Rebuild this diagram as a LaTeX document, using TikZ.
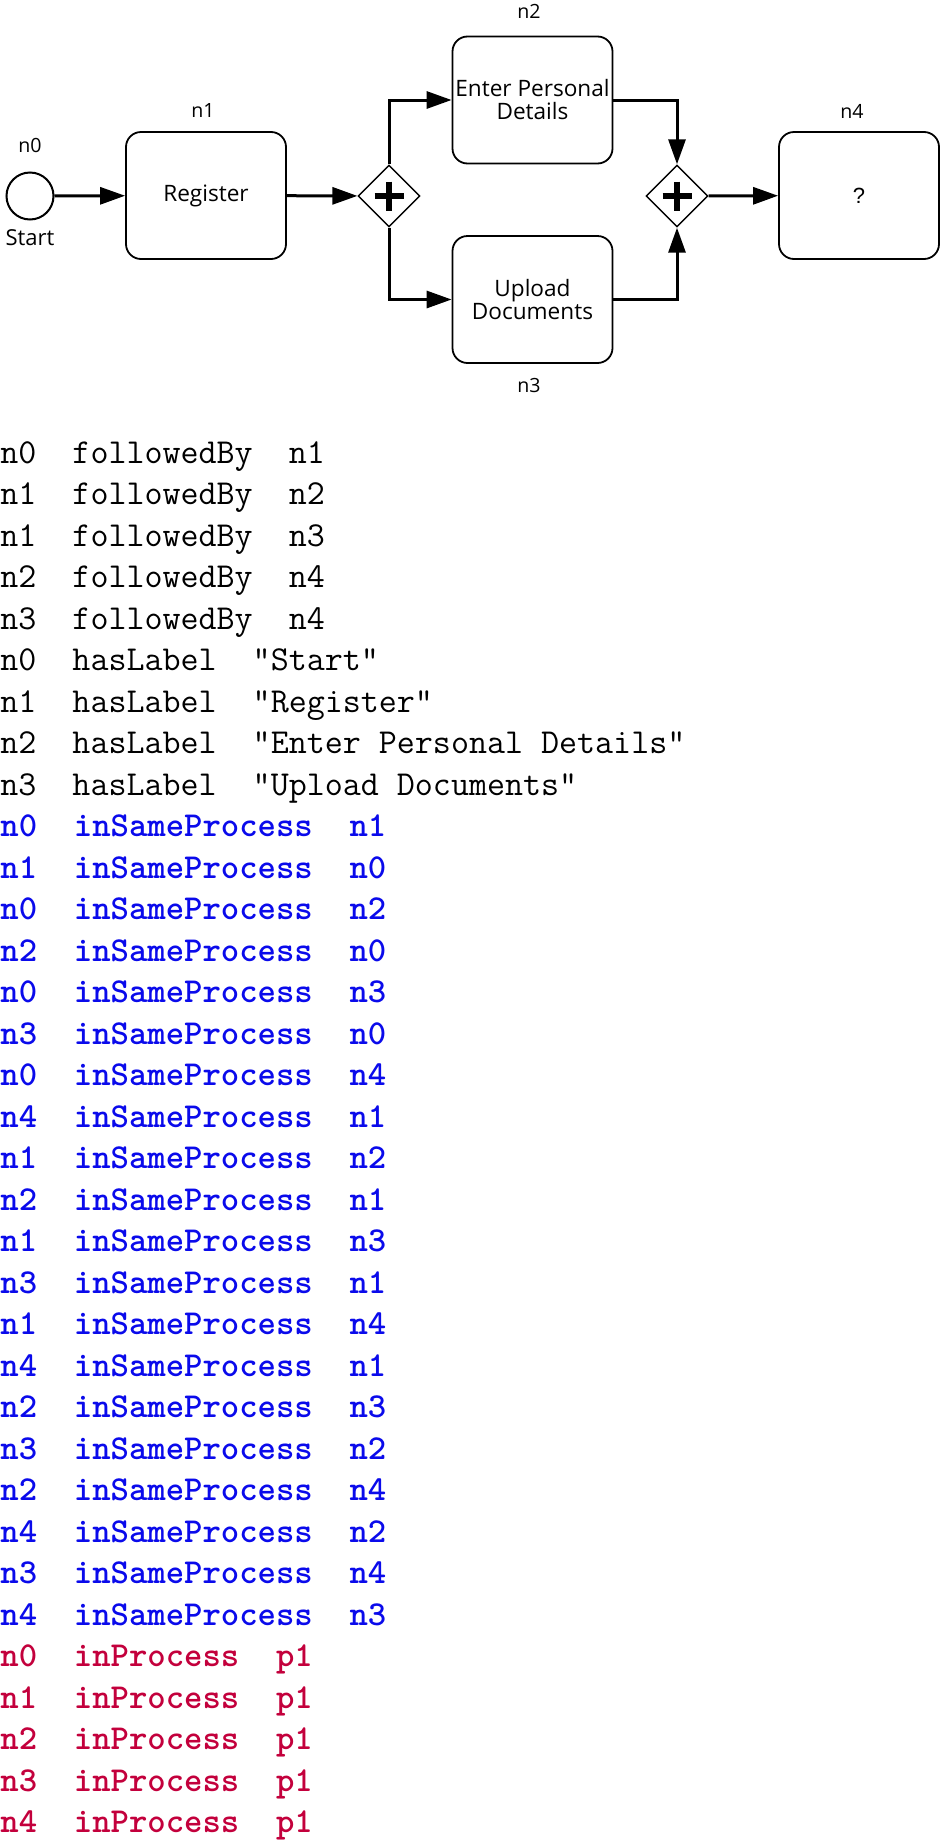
\documentclass[tikz,border=0pt]{standalone}
\usepackage{fontspec}
\newfontfamily\diag{Open Sans}
\newfontfamily\arialf{Liberation Sans}
\usetikzlibrary{arrows.meta,shapes.geometric}
\definecolor{tblue}{RGB}{10,10,235}
\definecolor{tred}{RGB}{195,0,60}
\begin{document}
\begin{tikzpicture}[x=0.5pt,y=-0.5pt,
  task/.style={draw, rounded corners=7.5pt, line width=0.9pt, minimum width=80pt, minimum height=63.5pt,
    align=center, inner sep=0pt, font=\diag\fontsize{11.3}{11.5}\selectfont},
  gate/.style={draw, diamond, line width=0.7pt, minimum width=31pt, minimum height=31pt, inner sep=0pt},
  flow/.style={line width=1.5pt, -{Triangle[length=12.5pt,width=8.5pt]}},
  plus/.style={line width=2.6pt},
  lbl/.style={inner sep=0pt, font=\diag\fontsize{9.8}{11}\selectfont},
  fact/.style={anchor=base west, inner sep=0pt, font=\ttfamily\fontsize{17.5}{20}\selectfont},
  blk/.style={text=black},
  blu/.style={text=tblue, font=\ttfamily\bfseries\fontsize{17.5}{20}\selectfont},
  rd/.style={text=tred, font=\ttfamily\bfseries\fontsize{17.5}{20}\selectfont}]
\useasboundingbox (0,0) rectangle (943,1842);

% process diagram
\node[circle, draw, line width=1pt, minimum size=23.5pt, inner sep=0pt] (n0) at (30,196) {};
\node[task] (n1) at (206,195.5) {Register};
\node[gate] (g1) at (389,196) {};
\node[task] (n2) at (532.5,100) {Enter Personal\\Details};
\node[task] (n3) at (532.5,299.5) {Upload\\Documents};
\node[gate] (g2) at (677,196) {};
\node[task, font=\arialf\fontsize{11}{12}\selectfont] (n4) at (859,195.5) {?};

\node[lbl] (l0) at (30,145) {n0};
\node[lbl, font=\diag\fontsize{11}{12}\selectfont] (ls) at (30,238) {Start};
\node[lbl] (l1) at (203,111) {n1};
\node[lbl] (l2) at (529,11) {n2};
\node[lbl] (l3) at (529,385) {n3};
\node[lbl] (l4) at (852,111) {n4};

\draw[plus] (g1.center) ++(-14.5,0) -- ++(29,0);
\draw[plus] (g1.center) ++(0,-14.5) -- ++(0,29);
\draw[plus] (g2.center) ++(-14.5,0) -- ++(29,0);
\draw[plus] (g2.center) ++(0,-14.5) -- ++(0,29);

\draw[flow] (n0) -- (n1);
\draw[flow] (n1) -- (g1);
\draw[flow] (g1.north) |- (n2.west);
\draw[flow] (g1.south) |- (n3.west);
\draw[flow] (n2.east) -| (g2.north);
\draw[flow] (n3.east) -| (g2.south);
\draw[flow] (g2) -- (n4);

% facts
\foreach \t/\s [count=\k from 0] in {
 {n0~~followedBy~~n1}/blk,
 {n1~~followedBy~~n2}/blk,
 {n1~~followedBy~~n3}/blk,
 {n2~~followedBy~~n4}/blk,
 {n3~~followedBy~~n4}/blk,
 {n0~~hasLabel~~"Start"}/blk,
 {n1~~hasLabel~~"Register"}/blk,
 {n2~~hasLabel~~"Enter Personal Details"}/blk,
 {n3~~hasLabel~~"Upload Documents"}/blk,
 {n0~~inSameProcess~~n1}/blu,
 {n1~~inSameProcess~~n0}/blu,
 {n0~~inSameProcess~~n2}/blu,
 {n2~~inSameProcess~~n0}/blu,
 {n0~~inSameProcess~~n3}/blu,
 {n3~~inSameProcess~~n0}/blu,
 {n0~~inSameProcess~~n4}/blu,
 {n4~~inSameProcess~~n1}/blu,
 {n1~~inSameProcess~~n2}/blu,
 {n2~~inSameProcess~~n1}/blu,
 {n1~~inSameProcess~~n3}/blu,
 {n3~~inSameProcess~~n1}/blu,
 {n1~~inSameProcess~~n4}/blu,
 {n4~~inSameProcess~~n1}/blu,
 {n2~~inSameProcess~~n3}/blu,
 {n3~~inSameProcess~~n2}/blu,
 {n2~~inSameProcess~~n4}/blu,
 {n4~~inSameProcess~~n2}/blu,
 {n3~~inSameProcess~~n4}/blu,
 {n4~~inSameProcess~~n3}/blu,
 {n0~~inProcess~~p1}/rd,
 {n1~~inProcess~~p1}/rd,
 {n2~~inProcess~~p1}/rd,
 {n3~~inProcess~~p1}/rd,
 {n4~~inProcess~~p1}/rd}
 \node[fact,\s] (f\k) at (0,463+41.5*\k) {\t};
\end{tikzpicture}
\end{document}
